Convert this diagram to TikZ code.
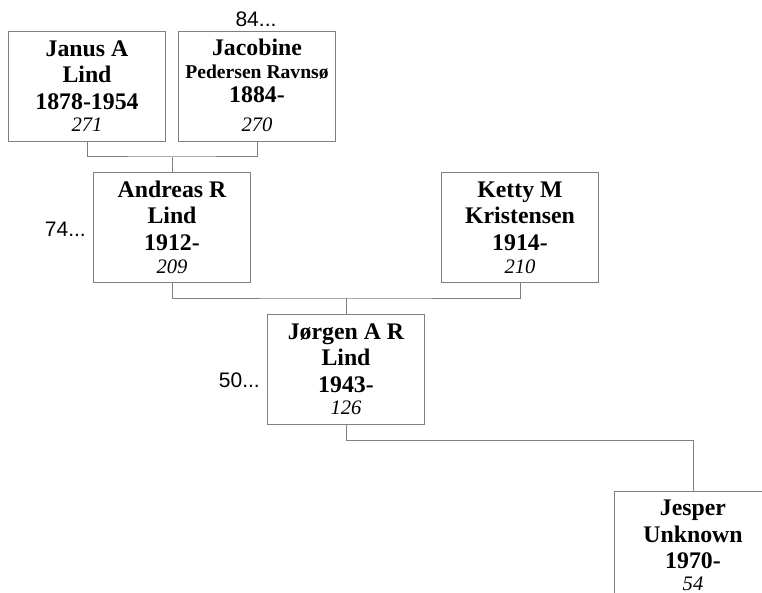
\documentclass[tikz,border=0pt]{standalone}
\usepackage{fontspec}
\setmainfont{Liberation Serif}
\newfontfamily\labelfont{Liberation Sans}
\begin{document}
\begin{tikzpicture}[x=1pt,y=-1pt,
  pbox/.style={draw=gray, line width=1pt, fill=white, minimum width=157pt, minimum height=110pt, inner sep=0pt},
  conn/.style={draw=gray, line width=1pt},
  nm/.style={anchor=base, inner sep=0pt, font=\fontsize{23.8}{26}\selectfont\bfseries},
  sm/.style={anchor=base, inner sep=0pt, font=\fontsize{19.6}{22}\selectfont\bfseries},
  idn/.style={anchor=base, inner sep=0pt, font=\fontsize{20.6}{22}\selectfont\itshape},
  lbl/.style={anchor=base, inner sep=0pt, font=\fontsize{21}{24}\labelfont}]
\useasboundingbox (0,0) rectangle (762,593);
\clip (0,0) rectangle (762,593);
% boxes
\node[pbox] (janus) at (87,87) {};
\node[pbox] (jacobine) at (257,87) {};
\node[pbox] (andreas) at (172,228) {};
\node[pbox] (ketty) at (520,228) {};
\node[pbox] (jorgen) at (346,369.5) {};
\node[pbox] (jesper) at (693,546) {};
% connectors
\coordinate (m1) at (172,157);
\coordinate (m2) at (346,298);
\coordinate (m3) at (693,440);
\draw[conn] (janus.south) |- (m1) -| (jacobine.south);
\draw[conn] (m1) -- (andreas.north);
\draw[conn] (andreas.south) |- (m2) -| (ketty.south);
\draw[conn] (m2) -- (jorgen.north);
\draw[conn] (jorgen.south) |- (m3) -- (jesper.north);
% Janus
\node[nm] (janus1) at (87,57) {Janus A};
\node[nm] (janus2) at (87,83) {Lind};
\node[nm] (janus3) at (87,110) {1878-1954};
\node[idn] (janus4) at (87,132) {271};
% Jacobine
\node[nm] (jac1) at (257,56) {Jacobine};
\node[sm] (jac2) at (257,79) {Pedersen Ravnsø};
\node[nm] (jac3) at (257,103) {1884-};
\node[idn] (jac4) at (257,132) {270};
\node[lbl] (jac5) at (256,27) {84...};
% Andreas
\node[nm] (and1) at (172,198) {Andreas R};
\node[nm] (and2) at (172,224) {Lind};
\node[nm] (and3) at (172,251) {1912-};
\node[idn] (and4) at (172,273) {209};
\node[lbl, anchor=base east] (and5) at (86,237) {74...};
% Ketty
\node[nm] (ket1) at (520,198) {Ketty M};
\node[nm] (ket2) at (520,224) {Kristensen};
\node[nm] (ket3) at (520,251) {1914-};
\node[idn] (ket4) at (520,273) {210};
% Jorgen
\node[nm] (jor1) at (346,339) {Jørgen A R};
\node[nm] (jor2) at (346,365) {Lind};
\node[nm] (jor3) at (346,392) {1943-};
\node[idn] (jor4) at (346,414) {126};
\node[lbl, anchor=base east] (jor5) at (260,387) {50...};
% Jesper
\node[nm] (jes1) at (693,515) {Jesper};
\node[nm] (jes2) at (693,542) {Unknown};
\node[nm] (jes3) at (693,568) {1970-};
\node[idn] (jes4) at (693,590) {54};
\end{tikzpicture}
\end{document}
